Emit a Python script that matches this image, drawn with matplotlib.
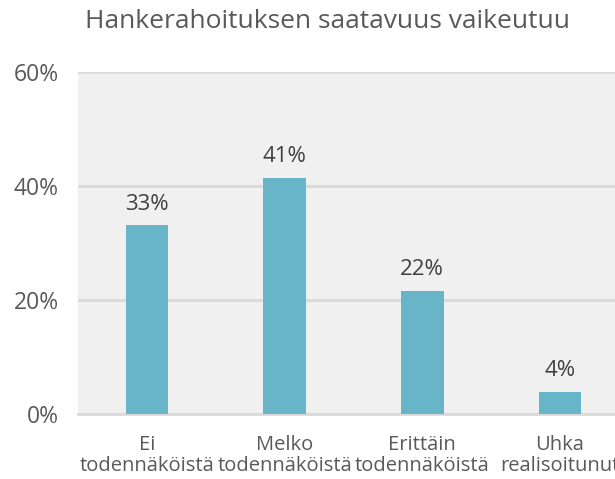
import matplotlib.pyplot as plt
import numpy as np

# Data
categories = ['Ei\ntodennäköistä', 'Melko\ntodennäköistä', 'Erittäin\ntodennäköistä', 'Uhka\nrealisoitunut']
values = [33.1, 41.4, 21.6, 3.9]
labels = ['33%', '41%', '22%', '4%']
yticks = [0, 20, 40, 60]

plt.rcParams['font.family'] = ['Open Sans', 'DejaVu Sans']
txt = '#595959'

fig = plt.figure(figsize=(6.15, 4.79), dpi=100)
ax = fig.add_axes([78 / 615, 1 - 414 / 479, 1 - 78 / 615, (414 - 72) / 479])
ax.set_facecolor('#f0f0f0')

x = np.arange(len(categories))
bars = ax.bar(x, values, width=0.31, color='#68b4c9', zorder=3)
for b, lab in zip(bars, labels):
    ax.text(b.get_x() + b.get_width() / 2, b.get_height() + 1.9, lab,
            ha='center', va='bottom', fontsize=16, color='#404040')

ax.set_xlim(-0.5, 3.40)
ax.set_ylim(0, 60)
ax.set_yticks(yticks)
ax.set_yticklabels([f'{t}%' for t in yticks], fontsize=16.5, color=txt)
ax.set_xticks(x)
ax.set_xticklabels(categories, fontsize=14.5, color=txt, linespacing=1.1)
ax.tick_params(length=0)
ax.tick_params(axis='y', pad=14)
ax.tick_params(axis='x', pad=15)
ax.grid(axis='y', color='#d9d9d9', linewidth=2, zorder=0)
for s in ['top', 'right', 'left']:
    ax.spines[s].set_visible(False)
ax.spines['bottom'].set_color('#d9d9d9')
ax.spines['bottom'].set_linewidth(2)

fig.text(0.532, 0.955, 'Hankerahoituksen saatavuus vaikeutuu', ha='center', va='center',
         fontsize=19, color=txt)

fig.savefig('out.png', dpi=100)
